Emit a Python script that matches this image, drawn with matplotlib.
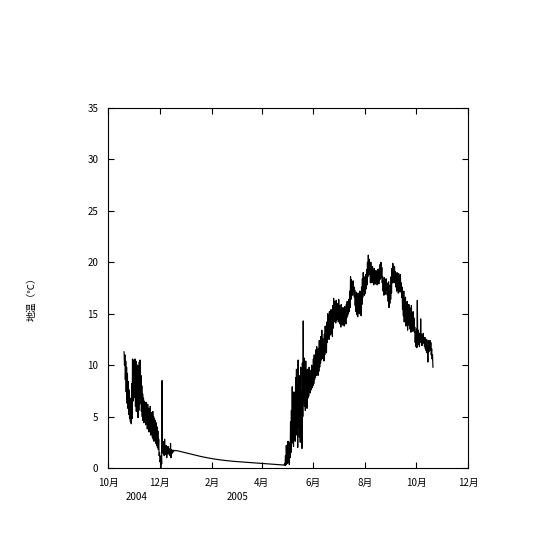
import matplotlib

matplotlib.use("Agg")
import matplotlib.pyplot as plt
import numpy as np

plt.rcParams["font.family"] = ["Noto Sans CJK JP", "DejaVu Sans"]

# days since 2004-10-01
# autumn 2004: daily high / low, starting day 19
AUTUMN_START = 19
autumn_hi = [11.3, 11.0, 10.4, 9.8, 9.2, 8.4, 7.6, 6.8, 6.0, 8.2,
             10.6, 10.5, 10.2, 10.6, 10.4, 9.6, 10.0, 9.4, 10.3, 10.5,
             9.0, 8.0, 7.2, 6.8, 6.5, 6.3, 6.4, 6.0, 6.2, 5.8,
             5.6, 6.0, 5.4, 5.2, 5.5, 5.0, 4.8, 4.6, 4.4, 4.0,
             3.6, 2.8, 1.5, 0.8, 1.2, 8.5, 2.6, 2.3, 2.8, 2.0,
             2.2, 2.0, 2.1, 1.9, 1.8, 2.4, 1.8, 1.7, 1.75]
autumn_lo = [10.0, 8.6, 7.4, 6.3, 5.8, 5.2, 4.8, 4.5, 4.3, 4.8,
             6.5, 6.8, 7.0, 6.0, 5.5, 5.8, 4.9, 5.6, 6.2, 6.8,
             5.5, 5.0, 4.6, 4.4, 4.8, 4.2, 4.6, 3.8, 4.0, 3.5,
             3.8, 3.2, 3.4, 3.0, 2.8, 2.6, 3.0, 2.4, 2.2, 2.0,
             1.8, 1.2, 0.6, 0.0, 0.4, 1.5, 1.4, 1.2, 1.5, 1.3,
             1.0, 1.4, 1.5, 1.3, 1.2, 1.0, 1.4, 1.5, 1.6]

# winter: slow decline
winter_day = [78, 82, 86, 90, 95, 100, 105, 110, 116, 124, 132, 140,
              150, 160, 170, 183, 195, 205, 208]
winter_val = [1.7, 1.68, 1.6, 1.52, 1.42, 1.32, 1.22, 1.12, 1.02, 0.9,
              0.8, 0.72, 0.64, 0.58, 0.52, 0.44, 0.37, 0.31, 0.29]

# spring-autumn 2005: daily high / low, starting day 209
SPRING_START = 209
spring_hi = [0.4, 1.2, 2.2, 1.6, 2.6, 2.0, 2.5, 4.5, 5.6, 7.9,
             6.5, 7.4, 5.8, 8.8, 9.6, 7.2, 10.5, 9.0, 8.0, 9.8,
             7.5, 10.2, 14.3, 10.7, 9.5, 10.4, 8.8, 9.6, 9.2, 9.8,
             8.6, 9.5, 10.0, 9.7, 10.6, 11.0, 10.4, 11.5, 11.8, 11.2,
             11.6, 12.4, 12.0, 12.8, 13.4, 12.6, 12.0, 13.0, 13.8, 13.3,
             14.2, 15.0, 14.4, 15.2, 14.8, 15.4, 14.6, 15.8, 16.5, 16.2,
             15.6, 16.3, 16.0, 15.5, 16.4, 15.8, 15.4, 15.9, 15.2, 15.6,
             15.0, 15.7, 15.3, 15.9, 16.2, 15.8, 16.4, 17.2, 18.6, 18.3,
             17.8, 18.2, 17.6, 17.3, 16.8, 17.1, 16.5, 17.0, 16.4, 17.2,
             16.8, 17.6, 18.4, 19.0, 18.6, 18.2, 18.8, 19.3, 20.0, 20.7,
             20.3, 19.6, 20.0, 19.2, 19.6, 19.0, 19.4, 18.8, 19.2, 18.6,
             19.3, 18.9, 19.4, 19.8, 20.0, 19.5, 18.6, 18.2, 18.5, 17.8,
             18.4, 18.0, 17.6, 18.1, 17.2, 17.8, 18.6, 19.4, 19.9, 19.2,
             19.6, 19.1, 18.6, 19.0, 18.4, 18.9, 18.2, 18.8, 18.0, 17.6,
             16.8, 17.2, 16.4, 16.6, 15.8, 16.2, 15.4, 15.9, 15.6, 15.0,
             15.8, 14.8, 15.2, 14.6, 13.7, 13.2, 13.5, 16.3, 13.4, 12.9,
             13.1, 14.5, 13.0, 12.8, 13.1, 12.6, 12.7, 12.2, 12.5, 11.8,
             12.4, 12.0, 12.4, 12.2, 11.6, 11.0]
spring_lo = [0.25, 0.3, 0.4, 0.5, 0.8, 0.35, 1.0, 1.5, 2.4, 2.8,
             2.1, 3.0, 2.6, 3.5, 3.2, 2.0, 4.0, 3.0, 2.5, 3.8,
             1.9, 5.0, 6.5, 6.0, 5.6, 6.4, 5.8, 6.8, 7.0, 7.4,
             7.3, 7.6, 7.8, 8.0, 8.2, 8.6, 8.8, 9.0, 9.2, 9.0,
             9.4, 9.8, 10.2, 10.5, 10.8, 10.6, 10.4, 11.0, 11.6, 11.2,
             12.2, 12.8, 12.5, 12.9, 13.0, 13.3, 12.8, 13.6, 14.2, 14.5,
             14.1, 14.4, 14.8, 14.2, 14.6, 14.0, 13.7, 14.3, 13.9, 14.2,
             13.8, 14.4, 14.0, 14.6, 14.8, 15.0, 15.2, 15.6, 16.4, 17.0,
             16.8, 17.2, 16.6, 15.8, 15.2, 14.9, 14.7, 15.4, 15.0, 15.6,
             14.8, 15.9, 16.6, 17.2, 16.8, 17.0, 17.4, 17.8, 18.6, 19.2,
             18.8, 18.0, 18.4, 18.0, 18.2, 17.8, 18.1, 17.9, 18.0, 17.8,
             18.2, 17.9, 18.3, 18.4, 18.6, 18.0, 17.2, 16.8, 17.0, 16.9,
             17.3, 16.8, 16.2, 15.6, 16.0, 16.4, 17.0, 18.0, 18.4, 18.0,
             18.3, 17.6, 17.2, 17.8, 17.0, 17.4, 17.1, 17.3, 16.6, 15.4,
             14.8, 14.2, 14.6, 13.8, 14.2, 13.4, 13.9, 14.0, 13.5, 13.2,
             13.8, 13.3, 13.5, 13.2, 12.2, 11.8, 11.7, 12.4, 12.0, 11.8,
             12.2, 12.4, 11.9, 12.1, 12.2, 11.8, 11.6, 11.4, 11.2, 10.3,
             11.3, 11.4, 11.5, 11.0, 10.6, 9.8]

TICK_DAYS = [0, 61, 123, 182, 243, 304, 365, 426]
TICK_LABELS = ["10月", "12月", "2月", "4月", "6月", "8月", "10月", "12月"]
# year labels in pixel positions of the 540 px canvas
YEAR_LABELS = [("2004", 137), ("2005", 238)]


def interleave(start, hi, lo):
    days = np.arange(start, start + len(hi))
    x = np.column_stack([days, days + 0.5]).ravel()
    y = np.column_stack([hi, lo]).ravel()
    return x, y


def main():
    xa, ya = interleave(AUTUMN_START, autumn_hi, autumn_lo)
    xs, ys = interleave(SPRING_START, spring_hi, spring_lo)
    x = np.concatenate([xa, winter_day, xs])
    y = np.concatenate([ya, winter_val, ys])

    fig = plt.figure(figsize=(5.4, 5.4), dpi=100)
    ax = fig.add_axes([0.2, 0.1333, 0.6667, 0.6667])
    ax.plot(x, y, color="black", lw=0.85)

    ax.set_xlim(0, 426)
    ax.set_ylim(0, 35)
    ax.set_xticks(TICK_DAYS)
    ax.set_xticklabels(TICK_LABELS)
    ax.set_yticks(np.arange(0, 36, 5))
    ax.tick_params(direction="in", top=True, right=True, length=4.5,
                   width=0.8, labelsize=7, pad=7, colors="black")
    for s in ax.spines.values():
        s.set_linewidth(0.8)

    for label, px in YEAR_LABELS:
        fig.text(px / 540, 1 - 497 / 540, label, ha="center", va="center",
                 fontsize=7)

    fig.text(32 / 540, 1 - 297 / 540, "地温（℃）", rotation=90,
             ha="center", va="center", fontsize=7)

    fig.savefig("out.png", dpi=100)
    plt.close(fig)


if __name__ == "__main__":
    main()
